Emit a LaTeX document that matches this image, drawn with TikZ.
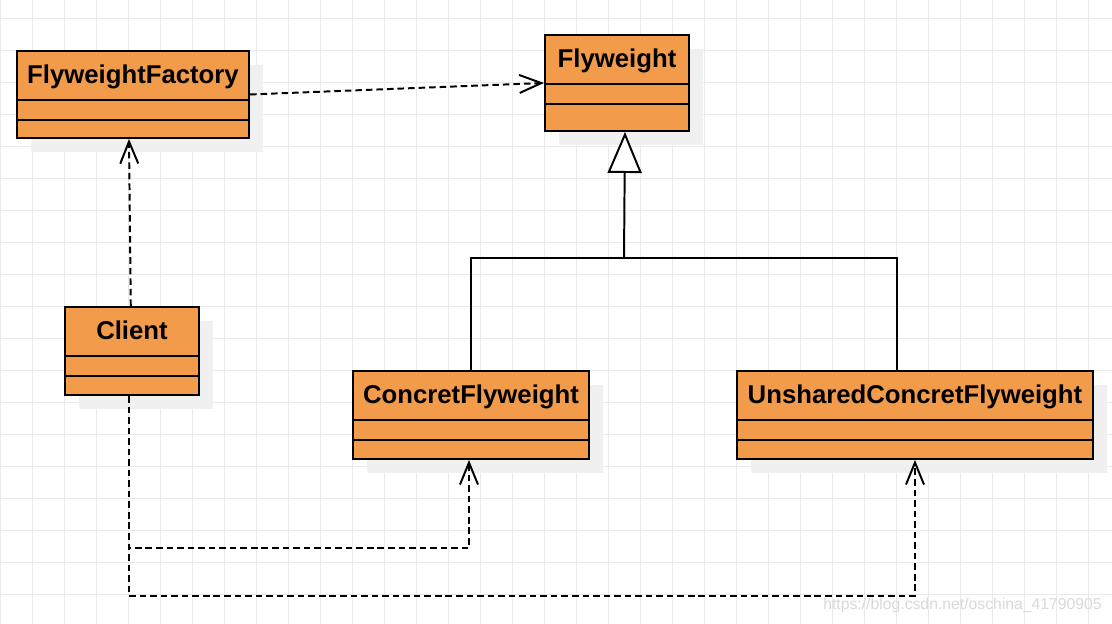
\documentclass[tikz,border=0pt]{standalone}
\usepackage{fontspec}
\setmainfont{Liberation Sans}
\usetikzlibrary{arrows.meta,shadows}
\definecolor{clsorange}{RGB}{242,155,74}
\definecolor{shadowgray}{RGB}{240,240,240}
\definecolor{gridgray}{RGB}{234,234,234}

\begin{document}
\begin{tikzpicture}[
		every node/.style={font=\bfseries\fontsize{18.3}{22}\selectfont},
		cls/.style={rectangle, draw=black, line width=1.4pt, fill=clsorange, anchor=north west,
			inner xsep=0pt, inner ysep=0pt, minimum height=0pt, text height=0.825cm,
			general shadow={draw=none, fill=shadowgray, shadow xshift=0.35cm, shadow yshift=-0.35cm}},
		dep/.style={dash pattern=on 4.7pt off 2.8pt, line width=1.4pt, -{Straight Barb[length=0.55cm, width=0.45cm]}},
		gen/.style={line width=1.4pt},
		gridline/.style={draw=gridgray, line width=0.6pt}
	]

	% Background grid
	\useasboundingbox (0,0) rectangle (27.8,-15.6);
	\fill[white] (0,0) rectangle (27.8,-15.6);
	\foreach \i in {0,...,34}
		\draw[gridline] (\i*0.8,0) -- (\i*0.8,-15.6);
	\foreach \j in {0,...,18}
		\draw[gridline] (0,-0.45-\j*0.8) -- (27.8,-0.45-\j*0.8);

	% Nodes
	\node[cls, minimum width=5.8cm, text depth=1.35cm] (FF) at (0.4,-1.25) {FlyweightFactory};
	\node[cls, minimum width=3.6cm, text depth=1.575cm] (FW) at (13.6,-0.85) {Flyweight};
	\node[cls, minimum width=3.35cm, text depth=1.375cm] (CL) at (1.6,-7.65) {Client};
	\node[cls, minimum width=5.9cm, text depth=1.375cm] (CF) at (8.8,-9.25) {ConcretFlyweight};
	\node[cls, minimum width=8.9cm, text depth=1.375cm] (UCF) at (18.4,-9.25) {UnsharedConcretFlyweight};

	% Compartments
	\foreach \n in {FF,FW,CL,CF,UCF} {
		\draw[gen] ([yshift=-1.25cm]\n.north west) -- ([yshift=-1.25cm]\n.north east);
		\draw[gen] ([yshift=-1.75cm]\n.north west) -- ([yshift=-1.75cm]\n.north east);
	}

	% Arrows
	\coordinate (joint) at (15.6,-6.45);
	\draw[gen] (CF.north) |- (joint) -| ([xshift=-0.45cm]UCF.north);
	\draw[gen, -{Triangle[length=1.025cm, width=0.85cm, fill=white]}] (joint) -- ([xshift=0.2cm]FW.south);

	\draw[dep] (FF.east) -- (FW.west);
	\draw[dep] ([xshift=-0.03cm]CL.north) -- ([xshift=-0.1cm]FF.south);
	\draw[dep] ([xshift=-0.08cm]CL.south) -- ++(0,-3.8) -| ([xshift=-0.05cm]CF.south);
	\draw[dep] ([xshift=-0.08cm]CL.south) -- ++(0,-5) -| (UCF.south);

	\node[font=\fontsize{11.2}{14}\selectfont, text=black!15, anchor=east, inner sep=0pt] (wm) at (27.55,-15.125) {https://blog.csdn.net/oschina\_41790905};

\end{tikzpicture}
\end{document}
